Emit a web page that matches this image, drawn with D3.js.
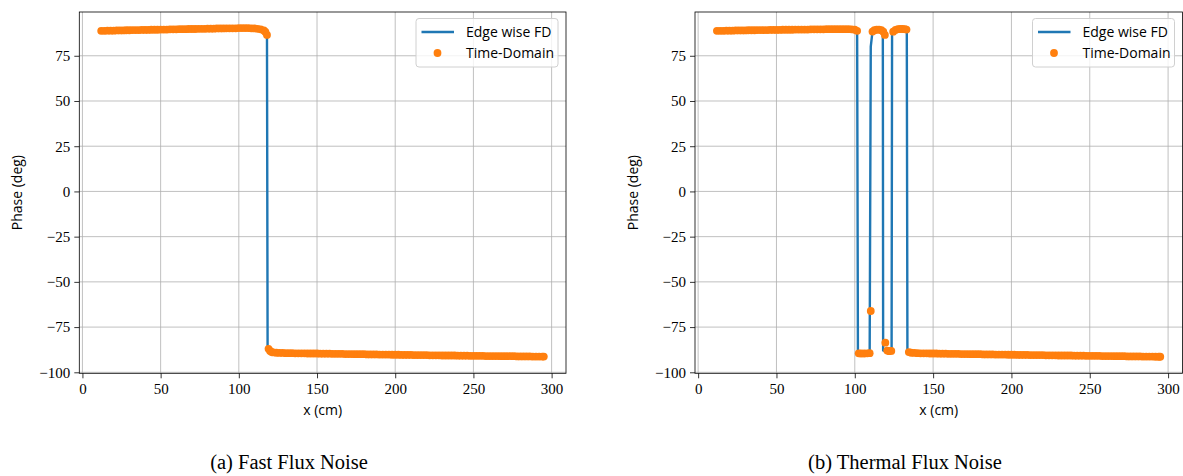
<!DOCTYPE html>
<html>
<head>
<meta charset="utf-8">
<script src="https://cdn.jsdelivr.net/npm/d3@7"></script>
<style>
  body { margin: 0; background: #fff; }
  .tick text { font-family: "Liberation Serif", serif; font-size: 15px; fill: #000; }
  .lbl { font-family: "Open Sans", sans-serif; font-size: 14px; fill: #000; }
  .cap { font-family: "Liberation Serif", serif; font-size: 20.5px; fill: #000; }
</style>
</head>
<body>
<div id="chart"></div>
<script>
// tick values shared by both panels
var X_TICKS = [0, 50, 100, 150, 200, 250, 300];
var Y_TICKS = [-100, -75, -50, -25, 0, 25, 50, 75];
var LEGEND_LABELS = ["Edge wise FD", "Time-Domain"];
var CAPTIONS = ["(a) Fast Flux Noise", "(b) Thermal Flux Noise"];

// (a) fast flux: [x (cm), phase (deg)]
var fastFD = [
  [12, 88.8], [20, 88.9], [30, 89.1], [40, 89.3], [50, 89.5], [60, 89.6], [70, 89.8], [80, 90.0],
  [90, 90.1], [100, 90.3], [108, 90.2], [112, 89.9], [116, 89.0], [118, 86.5], [118.4, -87.0],
  [120, -88.2], [122, -89.0], [130, -89.4], [150, -89.6], [175, -90.0], [200, -90.3], [225, -90.6],
  [250, -90.9], [275, -91.1], [295, -91.3]
];
var fastTD = [
  [12, 88.8], [14, 88.8], [16, 88.9], [18, 88.9], [20, 88.9], [22, 89.0], [24, 89.0], [26, 89.0],
  [28, 89.1], [30, 89.1], [32, 89.2], [34, 89.2], [36, 89.2], [38, 89.3], [40, 89.3], [42, 89.3],
  [44, 89.4], [46, 89.4], [48, 89.4], [50, 89.5], [52, 89.5], [54, 89.5], [56, 89.6], [58, 89.6],
  [60, 89.6], [62, 89.7], [64, 89.7], [66, 89.7], [68, 89.8], [70, 89.8], [72, 89.8], [74, 89.9],
  [76, 89.9], [78, 89.9], [80, 90.0], [82, 90.0], [84, 90.0], [86, 90.1], [88, 90.1], [90, 90.1],
  [92, 90.2], [94, 90.2], [96, 90.2], [98, 90.2], [100, 90.3], [102, 90.3], [104, 90.3], [106, 90.3],
  [108, 90.2], [110, 90.1], [112, 89.9], [114, 89.6], [116, 89.0], [117, 88.2], [118, 86.5],
  [119, -87.0], [120, -88.2], [121, -88.8], [122, -89.0], [124, -89.2], [126, -89.3], [128, -89.3],
  [130, -89.4], [132, -89.4], [134, -89.4], [136, -89.5], [138, -89.5], [140, -89.5], [142, -89.5],
  [144, -89.6], [146, -89.6], [148, -89.6], [150, -89.6], [152, -89.7], [154, -89.7], [156, -89.7],
  [158, -89.7], [160, -89.8], [162, -89.8], [164, -89.8], [166, -89.8], [168, -89.9], [170, -89.9],
  [172, -89.9], [174, -90.0], [176, -90.0], [178, -90.0], [180, -90.0], [182, -90.1], [184, -90.1],
  [186, -90.1], [188, -90.1], [190, -90.2], [192, -90.2], [194, -90.2], [196, -90.2], [198, -90.3],
  [200, -90.3], [202, -90.3], [204, -90.4], [206, -90.4], [208, -90.4], [210, -90.4], [212, -90.5],
  [214, -90.5], [216, -90.5], [218, -90.5], [220, -90.5], [222, -90.6], [224, -90.6], [226, -90.6],
  [228, -90.6], [230, -90.7], [232, -90.7], [234, -90.7], [236, -90.7], [238, -90.7], [240, -90.8],
  [242, -90.8], [244, -90.8], [246, -90.8], [248, -90.9], [250, -90.9], [252, -90.9], [254, -90.9],
  [256, -90.9], [258, -91.0], [260, -91.0], [262, -91.0], [264, -91.0], [266, -91.0], [268, -91.1],
  [270, -91.1], [272, -91.1], [274, -91.1], [276, -91.1], [278, -91.2], [280, -91.2], [282, -91.2],
  [284, -91.2], [286, -91.2], [288, -91.3], [290, -91.3], [292, -91.3], [294, -91.3], [295, -91.3]
];

// (b) thermal flux: [x (cm), phase (deg)]
var thermalFD = [
  [12, 88.8], [20, 88.9], [30, 89.0], [40, 89.2], [50, 89.3], [60, 89.4], [70, 89.5], [80, 89.6],
  [90, 89.7], [98, 89.6], [101.5, 88.8], [102, -89.5], [106, -89.6], [109.5, -89.4], [110.2, 80.0],
  [111.3, 88.4], [115, 89.5], [117, 89.1], [117.9, 87.8], [118.1, -88.0], [120, -88.2], [123.5, -88.2],
  [123.8, 88.3], [126, 89.3], [130, 89.8], [133.2, 89.5], [133.6, -88.8], [136, -89.2], [140, -89.4],
  [150, -89.6], [175, -90.0], [200, -90.3], [225, -90.6], [250, -90.9], [275, -91.1], [295, -91.3]
];
var thermalTD = [
  [12, 88.8], [14, 88.8], [16, 88.8], [18, 88.9], [20, 88.9], [22, 88.9], [24, 89.0], [26, 89.0],
  [28, 89.0], [30, 89.0], [32, 89.1], [34, 89.1], [36, 89.1], [38, 89.2], [40, 89.2], [42, 89.2],
  [44, 89.2], [46, 89.3], [48, 89.3], [50, 89.3], [52, 89.3], [54, 89.4], [56, 89.4], [58, 89.4],
  [60, 89.4], [62, 89.5], [64, 89.5], [66, 89.5], [68, 89.5], [70, 89.5], [72, 89.6], [74, 89.6],
  [76, 89.6], [78, 89.6], [80, 89.6], [82, 89.7], [84, 89.7], [86, 89.7], [88, 89.7], [90, 89.7],
  [92, 89.7], [94, 89.7], [96, 89.7], [98, 89.6], [100, 89.4], [101.5, 88.8],
  [102.5, -89.5], [104, -89.6], [106, -89.6], [108, -89.5], [109.5, -89.4], [110.2, -66.1],
  [111.3, 88.4], [112.5, 89.1], [114, 89.4], [115.5, 89.5], [117, 89.1], [118.2, 88.3], [119.2, 86.5],
  [119.5, -83.6], [120.7, -88.0], [122, -88.3], [123.3, -88.2],
  [124.5, 88.3], [126, 89.3], [127.5, 89.7], [129, 89.8], [130.5, 89.8], [132, 89.7], [133, 89.5],
  [134.5, -88.8], [136, -89.2], [138, -89.3], [140, -89.4], [142, -89.5], [144, -89.5], [146, -89.5],
  [148, -89.6], [150, -89.6], [152, -89.6], [154, -89.7], [156, -89.7], [158, -89.7], [160, -89.8],
  [162, -89.8], [164, -89.8], [166, -89.8], [168, -89.9], [170, -89.9], [172, -89.9], [174, -90.0],
  [176, -90.0], [178, -90.0], [180, -90.0], [182, -90.1], [184, -90.1], [186, -90.1], [188, -90.1],
  [190, -90.2], [192, -90.2], [194, -90.2], [196, -90.2], [198, -90.3], [200, -90.3], [202, -90.3],
  [204, -90.4], [206, -90.4], [208, -90.4], [210, -90.4], [212, -90.5], [214, -90.5], [216, -90.5],
  [218, -90.5], [220, -90.5], [222, -90.6], [224, -90.6], [226, -90.6], [228, -90.6], [230, -90.7],
  [232, -90.7], [234, -90.7], [236, -90.7], [238, -90.7], [240, -90.8], [242, -90.8], [244, -90.8],
  [246, -90.8], [248, -90.9], [250, -90.9], [252, -90.9], [254, -90.9], [256, -90.9], [258, -91.0],
  [260, -91.0], [262, -91.0], [264, -91.0], [266, -91.1], [268, -91.1], [270, -91.1], [272, -91.1],
  [274, -91.2], [276, -91.2], [278, -91.2], [280, -91.2], [282, -91.2], [284, -91.3], [286, -91.3],
  [288, -91.3], [290, -91.3], [292, -91.4], [294, -91.4], [295, -91.4]
];

var W = 1183, H = 476;
var BLUE = "#1f77b4", ORANGE = "#ff7f0e";

var svg = d3.select("#chart").append("svg")
  .attr("width", W).attr("height", H);

function drawPanel(left, right, aFD, aTD, sCaption, fCaptionX) {
  var TOP = 12, BOTTOM = 373.3;

  var x = d3.scaleLinear().domain([-2, 309.2]).range([left, right]);
  var y = d3.scaleLinear().domain([-100.55, 99.2]).range([BOTTOM, TOP]);

  var g = svg.append("g");

  // grid
  g.selectAll(".gx").data(X_TICKS).enter().append("line")
    .attr("x1", d => x(d)).attr("x2", d => x(d))
    .attr("y1", TOP).attr("y2", BOTTOM)
    .attr("stroke", "#b0b0b0").attr("stroke-width", 0.8);
  g.selectAll(".gy").data(Y_TICKS).enter().append("line")
    .attr("x1", left).attr("x2", right)
    .attr("y1", d => y(d)).attr("y2", d => y(d))
    .attr("stroke", "#b0b0b0").attr("stroke-width", 0.8);

  // FD line then TD dots on top
  var line = d3.line().x(d => x(d[0])).y(d => y(d[1]));
  g.append("path").datum(aFD)
    .attr("d", line)
    .attr("fill", "none")
    .attr("stroke", BLUE)
    .attr("stroke-width", 2.4)
    .attr("stroke-linejoin", "round");

  g.selectAll(".td").data(aTD).enter().append("circle")
    .attr("cx", d => x(d[0]))
    .attr("cy", d => y(d[1]))
    .attr("r", 3.9)
    .attr("fill", ORANGE);

  // frame
  g.append("rect")
    .attr("x", left).attr("y", TOP)
    .attr("width", right - left).attr("height", BOTTOM - TOP)
    .attr("fill", "none").attr("stroke", "#000").attr("stroke-width", 0.8);

  // axes
  var fmt = d3.format("d");
  var gx = g.append("g")
    .attr("transform", "translate(0," + BOTTOM + ")")
    .call(d3.axisBottom(x).tickValues(X_TICKS).tickFormat(fmt).tickSize(5).tickSizeOuter(0).tickPadding(5));
  var gy = g.append("g")
    .attr("transform", "translate(" + left + ",0)")
    .call(d3.axisLeft(y).tickValues(Y_TICKS).tickFormat(fmt).tickSize(5).tickSizeOuter(0).tickPadding(4));
  [gx, gy].forEach(function(a) {
    a.select(".domain").remove();
    a.selectAll(".tick line").attr("stroke", "#000").attr("stroke-width", 0.8);
  });

  // axis labels
  g.append("text").attr("class", "lbl")
    .attr("x", (left + right) / 2).attr("y", 415)
    .attr("text-anchor", "middle")
    .text("x (cm)");
  g.append("text").attr("class", "lbl")
    .attr("transform", "translate(" + (left - 57) + "," + ((TOP + BOTTOM) / 2) + ") rotate(-90)")
    .attr("text-anchor", "middle")
    .text("Phase (deg)");

  // legend
  var lg = g.append("g").attr("transform", "translate(" + (right - 150) + "," + (TOP + 6.5) + ")");
  lg.append("rect")
    .attr("width", 142).attr("height", 48.5).attr("rx", 3)
    .attr("fill", "#fff").attr("fill-opacity", 0.8)
    .attr("stroke", "#d0d0d0").attr("stroke-width", 1);
  lg.append("line")
    .attr("x1", 5.5).attr("x2", 38).attr("y1", 13.5).attr("y2", 13.5)
    .attr("stroke", BLUE).attr("stroke-width", 2.4);
  lg.append("circle")
    .attr("cx", 21.5).attr("cy", 34.5).attr("r", 3.9)
    .attr("fill", ORANGE);
  lg.selectAll(".lt").data(LEGEND_LABELS).enter().append("text")
    .attr("class", "lbl")
    .attr("x", 50)
    .attr("y", (d, i) => 18.5 + i * 21)
    .text(d => d);

  // caption, centred under the whole subfigure
  svg.append("text").attr("class", "cap")
    .attr("x", fCaptionX).attr("y", 469)
    .attr("text-anchor", "middle")
    .text(sCaption);
}

drawPanel(79.3, 566, fastFD, fastTD, CAPTIONS[0], 289);
drawPanel(695, 1182.5, thermalFD, thermalTD, CAPTIONS[1], 905);
</script>
</body>
</html>
